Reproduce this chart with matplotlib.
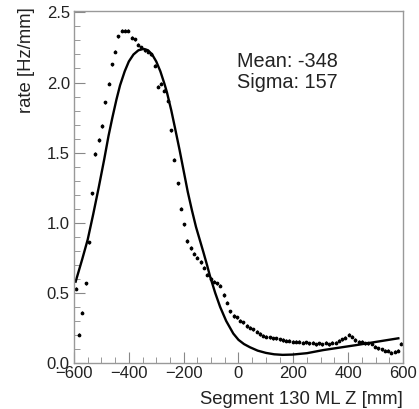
import numpy as np
import matplotlib
matplotlib.use("Agg")
import matplotlib.pyplot as plt
from matplotlib.ticker import MultipleLocator

plt.rcParams["font.family"] = ["Liberation Sans", "DejaVu Sans"]

# histogram: 100 bins of 12 mm between -600 and 600
bin_centers = np.arange(-594, 600, 12)
rate = [
    0.53, 0.20, 0.36, 0.57, 0.86, 1.21, 1.49, 1.59, 1.69, 1.86,
    1.99, 2.13, 2.22, 2.33, 2.37, 2.37, 2.37, 2.32, 2.31, 2.27,
    2.25, 2.23, 2.22, 2.20, 2.12, 1.97, 1.99, 1.94, 1.87, 1.66,
    1.45, 1.28, 1.10, 0.99, 0.87, 0.82, 0.78, 0.75, 0.72, 0.68,
    0.63, 0.60, 0.58, 0.57, 0.55, 0.485, 0.43, 0.37, 0.335, 0.326,
    0.30, 0.29, 0.264, 0.252, 0.24, 0.223, 0.207, 0.195, 0.188, 0.183,
    0.176, 0.176, 0.169, 0.164, 0.159, 0.16, 0.15, 0.152, 0.15, 0.145,
    0.148, 0.14, 0.145, 0.133, 0.14, 0.133, 0.145, 0.133, 0.145, 0.145,
    0.159, 0.169, 0.18, 0.20, 0.188, 0.164, 0.152, 0.152, 0.14, 0.14,
    0.136, 0.116, 0.105, 0.098, 0.088, 0.088, 0.074, 0.081, 0.086, 0.136,
]

# fit curve
fit_x = [-594, -570, -550, -530, -510, -490, -474, -460, -445, -432,
         -415, -400, -383, -365, -346, -330, -315, -300, -285, -270,
         -261, -245, -232, -215, -200, -185, -170, -155, -140, -128,
         -115, -104, -85, -67, -45, -19, 0, 20, 42, 70,
         100, 130, 161, 197, 250, 309, 370, 431, 500, 583]
fit_y = [0.58, 0.74, 0.88, 1.06, 1.25, 1.45, 1.62, 1.75, 1.88, 1.98,
         2.08, 2.15, 2.20, 2.23, 2.24, 2.23, 2.20, 2.15, 2.08, 1.99,
         1.93, 1.80, 1.68, 1.52, 1.37, 1.22, 1.09, 0.97, 0.87, 0.79,
         0.70, 0.62, 0.50, 0.40, 0.30, 0.21, 0.165, 0.135, 0.112, 0.088,
         0.072, 0.062, 0.058, 0.060, 0.070, 0.092, 0.110, 0.128, 0.150, 0.176]

fit_label = "Mean: -348\nSigma: 157"

fig = plt.figure(figsize=(4.19, 4.09), dpi=100)
ax = fig.add_axes([0.1766, 0.1125, 0.7852, 0.8606])

ax.errorbar(bin_centers, rate, yerr=0.011, fmt="o", ms=1.7, color="k",
            elinewidth=0.9, capsize=0)
ax.plot(fit_x, fit_y, color="k", lw=1.7)

ax.set_xlim(-600, 600)
ax.set_ylim(0, 2.51)
ax.xaxis.set_major_locator(MultipleLocator(200))
ax.xaxis.set_minor_locator(MultipleLocator(50))
ax.yaxis.set_major_locator(MultipleLocator(0.5))
ax.yaxis.set_minor_locator(MultipleLocator(0.1))
ax.yaxis.set_major_formatter(plt.FormatStrFormatter("%.1f"))

for s in ax.spines.values():
    s.set_color("#999999")
    s.set_linewidth(1.0)
ax.tick_params(which="both", direction="in", color="#888888",
               labelcolor="#222222", labelsize=12, top=False, right=False)
ax.tick_params(which="major", length=8)
ax.tick_params(which="minor", length=4.5)
ax.tick_params(axis="x", pad=2.5)
ax.tick_params(axis="y", pad=3)

ax.set_xlabel("Segment 130 ML Z [mm]", loc="right", fontsize=13.3, color="#222222")
ax.xaxis.set_label_coords(1.0, -0.08)
ax.set_ylabel("rate [Hz/mm]", loc="top", fontsize=13.3, color="#222222")
ax.yaxis.set_label_coords(-0.12, 1.012)

ax.text(0.4945, 0.883, fit_label, transform=ax.transAxes, ha="left", va="top",
        fontsize=14.3, color="#222222", linespacing=1.15)

fig.savefig("out.png", dpi=100)
